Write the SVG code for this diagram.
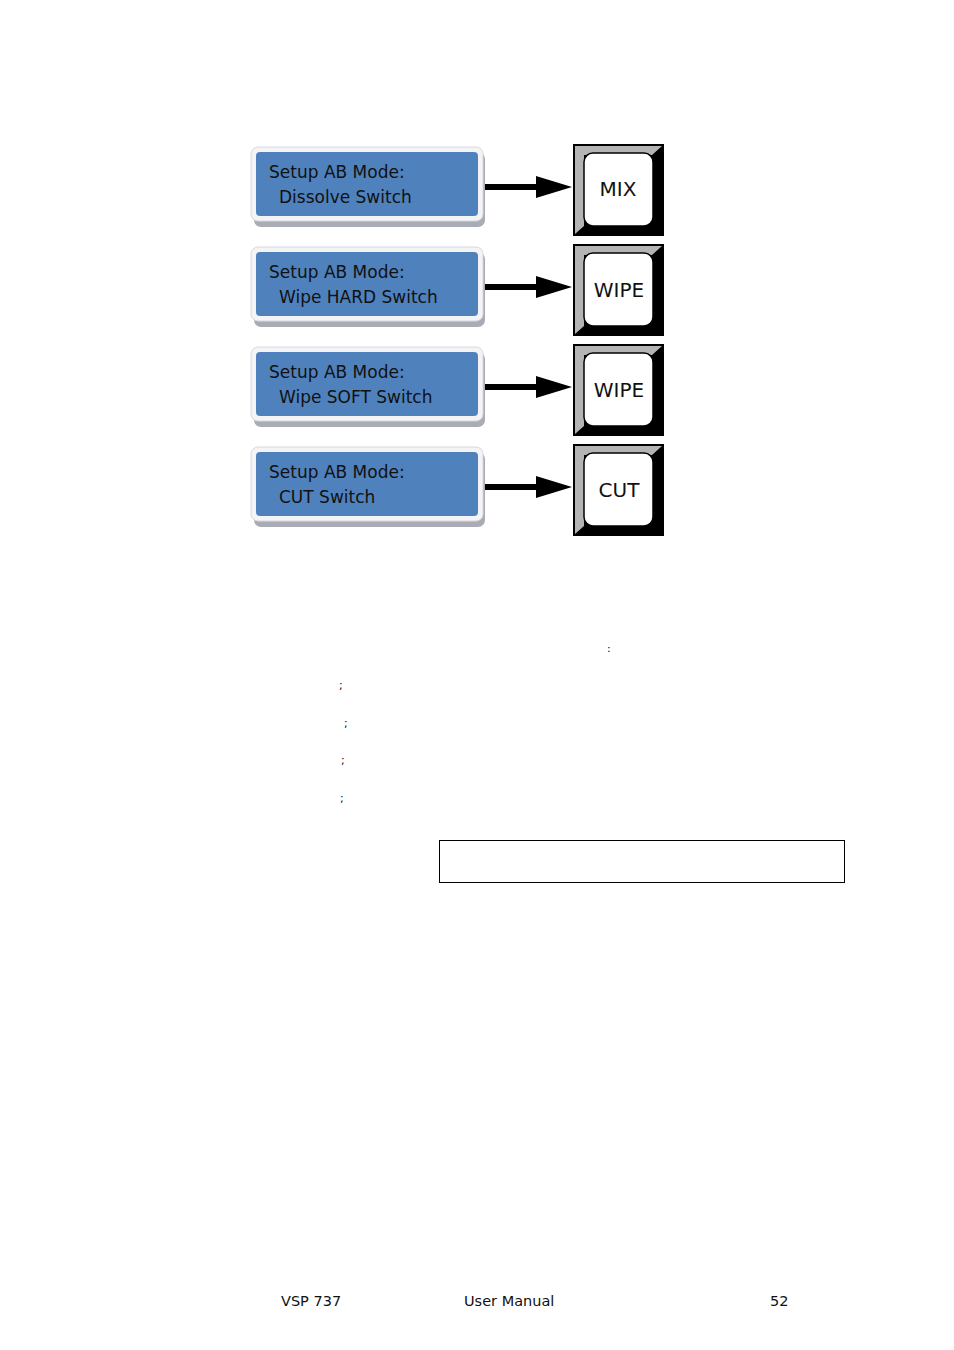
<svg xmlns="http://www.w3.org/2000/svg" width="954" height="1350" viewBox="0 0 954 1350">
<style>
.frame{fill:#f4f4f6;stroke:#d6d8de;stroke-width:1}
.shadow{fill:#a9acb4}
.blue{fill:#4f81bd}
.t{font-family:"DejaVu Sans",Verdana,sans-serif;font-size:17px;fill:#111}
.k{font-family:"DejaVu Sans",Verdana,sans-serif;font-size:20px;fill:#111;text-anchor:middle}
.s{font-family:"DejaVu Sans",sans-serif;font-size:11px;fill:#000}
.f{font-family:"DejaVu Sans",Verdana,sans-serif;font-size:14.5px;fill:#111}
.cn{stroke:#000;stroke-width:6;fill:none}
</style>
<defs>
<g id="box">
<rect class="shadow" x="254" y="152" width="231" height="75" rx="7"/>
<rect class="frame" x="251" y="147" width="232" height="74" rx="7"/>
<rect class="blue" x="256" y="152" width="222" height="64" rx="4"/>
</g>
<g id="key">
<rect x="573" y="144" width="91" height="92" fill="#000"/>
<polygon points="575,146 662,146 652,155 584,155 584,226 575,234" fill="#b4b4b4"/>
<rect x="584" y="153" width="69" height="73" rx="9" fill="#fff" stroke="#000" stroke-width="1.5"/>
</g>
<polygon id="head" points="536,176 572,187 536,198"/>
</defs>
<g id="node1"><use href="#box"/><use href="#key"/><text class="t" x="269" y="178">Setup AB Mode:</text><text class="t" x="279" y="203">Dissolve Switch</text><text class="k" x="618" y="196">MIX</text></g>
<g id="node2" transform="translate(0,100)"><use href="#box"/><use href="#key"/><text class="t" x="269" y="178">Setup AB Mode:</text><text class="t" x="279" y="203">Wipe HARD Switch</text><text class="k" x="619" y="197">WIPE</text></g>
<g id="node3" transform="translate(0,200)"><use href="#box"/><use href="#key"/><text class="t" x="269" y="178">Setup AB Mode:</text><text class="t" x="279" y="203">Wipe SOFT Switch</text><text class="k" x="619" y="197">WIPE</text></g>
<g id="node4" transform="translate(0,300)"><use href="#box"/><use href="#key"/><text class="t" x="269" y="178">Setup AB Mode:</text><text class="t" x="279" y="203">CUT Switch</text><text class="k" x="619" y="197">CUT</text></g>
<g id="connectors">
<line class="cn" x1="485" y1="187" x2="540" y2="187"/><use href="#head"/>
<line class="cn" x1="485" y1="287" x2="540" y2="287"/><use href="#head" y="100"/>
<line class="cn" x1="485" y1="387" x2="540" y2="387"/><use href="#head" y="200"/>
<line class="cn" x1="485" y1="487" x2="540" y2="487"/><use href="#head" y="300"/>
</g>
<text class="s" x="607" y="652">:</text>
<text class="s" x="339" y="689">;</text>
<text class="s" x="344" y="727">;</text>
<text class="s" x="341" y="764">;</text>
<text class="s" x="340" y="802">;</text>
<rect x="439.5" y="840.5" width="405" height="42" fill="none" stroke="#000" stroke-width="1"/>
<text class="f" x="281" y="1306">VSP 737</text>
<text class="f" x="464" y="1306">User Manual</text>
<text class="f" x="770" y="1306">52</text>
</svg>
